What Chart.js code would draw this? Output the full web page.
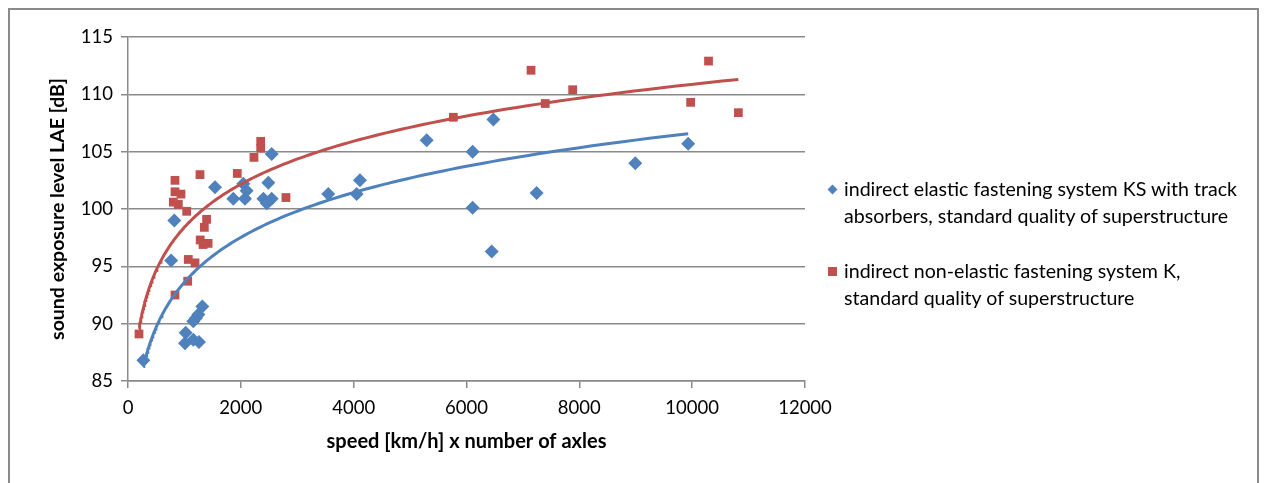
<!DOCTYPE html>
<html>
<head>
<meta charset="utf-8">
<script src="https://cdn.jsdelivr.net/npm/chart.js@4/dist/chart.umd.min.js"></script>
<style>
  html, body { margin: 0; padding: 0; background: #fff; }
  #wrap { position: relative; width: 1265px; height: 483px; overflow: hidden; }
  #frame { position: absolute; left: 8px; top: 8px; width: 1251px; height: 500px; border: 2px solid #8a8a8a; box-sizing: border-box; }
  canvas { position: absolute; left: 0; top: 0; }
  .leg { position: absolute; left: 844px; font-family: Lato, "Open Sans", sans-serif; font-size: 19.6px; line-height: 27px; color: #000; white-space: nowrap; }
  .mk { position: absolute; }
</style>
</head>
<body>
<div id="wrap">
  <div id="frame"></div>
  <canvas id="c" width="1265" height="483"></canvas>
  <div class="mk" style="left:829px;top:185.5px;width:7px;height:7px;background:#4F81BD;transform:rotate(45deg);"></div>
  <div class="leg" style="top:175px;">indirect elastic fastening system KS with track<br>absorbers, standard quality of superstructure</div>
  <div class="mk" style="left:828px;top:267px;width:8.5px;height:8.5px;background:#C0504D;"></div>
  <div class="leg" style="top:257px;">indirect non-elastic fastening system K,<br>standard quality of superstructure</div>
</div>
<script>
// Series 1: indirect elastic fastening system KS with track absorbers
const blueX = [272, 765, 821, 1010, 1022, 1158, 1258, 1158, 1205, 1247, 1317, 1542, 1867, 2044, 2074, 2103, 2400, 2460, 2487, 2547, 2547, 3550, 4052, 4111, 5294, 6109, 6109, 6446, 6476, 7243, 8991, 9930];
const blueY = [86.8, 95.5, 99.0, 88.3, 89.2, 88.6, 88.4, 90.2, 90.5, 90.8, 91.5, 101.9, 100.9, 102.2, 100.9, 101.6, 100.9, 100.5, 102.3, 100.9, 104.8, 101.3, 101.3, 102.5, 106.0, 105.0, 100.1, 96.3, 107.8, 101.4, 104.0, 105.7];
// Series 2: indirect non-elastic fastening system K
const redX = [195, 833, 1058, 1069, 1188, 1280, 1330, 1420, 1353, 1393, 1040, 892, 803, 939, 833, 833, 1276, 1937, 2233, 2352, 2352, 2800, 5767, 7144, 7396, 7882, 9973, 10290, 10819];
const redY = [89.1, 92.5, 93.7, 95.6, 95.3, 97.3, 96.9, 97.0, 98.4, 99.1, 99.8, 100.4, 100.6, 101.3, 101.5, 102.5, 103.0, 103.1, 104.5, 105.3, 105.9, 101.0, 108.0, 112.1, 109.2, 110.4, 109.3, 112.9, 108.4];

const seriesNames = [
  'indirect elastic fastening system KS with track absorbers, standard quality of superstructure',
  'indirect non-elastic fastening system K, standard quality of superstructure'
];
const xTitle = 'speed [km/h] x number of axles';
const yTitle = 'sound exposure level LAE [dB]';
const BLUE = '#4F81BD', RED = '#C0504D';

// logarithmic trendline (least squares fit of y = a*ln(x) + b), as Excel does
function logTrend(xs, ys) {
  const n = xs.length;
  let sl = 0, sy = 0, sll = 0, sly = 0;
  for (let i = 0; i < n; i++) { const l = Math.log(xs[i]); sl += l; sy += ys[i]; sll += l * l; sly += l * ys[i]; }
  const a = (n * sly - sl * sy) / (n * sll - sl * sl);
  const b = (sy - a * sl) / n;
  const lo = Math.min(...xs), hi = Math.max(...xs);
  const pts = [];
  const N = 150;
  for (let k = 0; k <= N; k++) {
    const x = Math.exp(Math.log(lo) + (Math.log(hi) - Math.log(lo)) * k / N);
    pts.push({ x: x, y: a * Math.log(x) + b });
  }
  return pts;
}
const toPts = (xs, ys) => xs.map((x, i) => ({ x: x, y: ys[i] }));

const FONT = 'Lato, "Open Sans", sans-serif';
const GRID = '#8a8a8a';

new Chart(document.getElementById('c'), {
  type: 'scatter',
  data: {
    datasets: [
      { label: 'trend1', type: 'line', data: logTrend(blueX, blueY), borderColor: BLUE, borderWidth: 3, pointRadius: 0, fill: false, order: 0, tension: 0 },
      { label: 'trend2', type: 'line', data: logTrend(redX, redY), borderColor: RED, borderWidth: 3, pointRadius: 0, fill: false, order: 0, tension: 0 },
      { label: seriesNames[1], data: toPts(redX, redY), pointStyle: 'rect', pointRadius: 6.2, backgroundColor: RED, borderColor: RED, borderWidth: 0, order: 1 },
      { label: seriesNames[0], data: toPts(blueX, blueY), pointStyle: 'rectRot', pointRadius: 7, backgroundColor: BLUE, borderColor: BLUE, borderWidth: 0, order: 2 }
    ]
  },
  options: {
    responsive: false,
    animation: false,
    layout: { padding: { left: 0, top: 37, right: 460, bottom: 0 } },
    plugins: { legend: { display: false }, tooltip: { enabled: false } },
    scales: {
      x: {
        type: 'linear', min: 0, max: 12000,
        ticks: { stepSize: 2000, color: '#000', font: { family: FONT, size: 18.5 }, padding: 9, maxRotation: 0, callback: v => String(v) },
        grid: { display: true, drawOnChartArea: false, drawTicks: true, tickLength: 7, color: GRID, lineWidth: 1.5 },
        border: { display: true, color: GRID, width: 1.5 },
        title: { display: true, text: xTitle, color: '#000', font: { family: FONT, size: 20, weight: 'bold' }, padding: { top: 0, bottom: 29 } },
        afterFit: s => { s.height = 102; }
      },
      y: {
        type: 'linear', min: 85, max: 115,
        ticks: { stepSize: 5, color: '#000', font: { family: FONT, size: 18.5 }, padding: 8, callback: v => String(v) },
        grid: { display: true, drawOnChartArea: true, drawTicks: true, tickLength: 7, color: GRID, lineWidth: 1.5 },
        border: { display: true, color: GRID, width: 1.5 },
        title: { display: true, text: yTitle, color: '#000', font: { family: FONT, size: 19.5, weight: 'bold' }, padding: { top: 46, bottom: 0 } },
        afterFit: s => { s.width = 128; }
      }
    }
  }
});
</script>
</body>
</html>
